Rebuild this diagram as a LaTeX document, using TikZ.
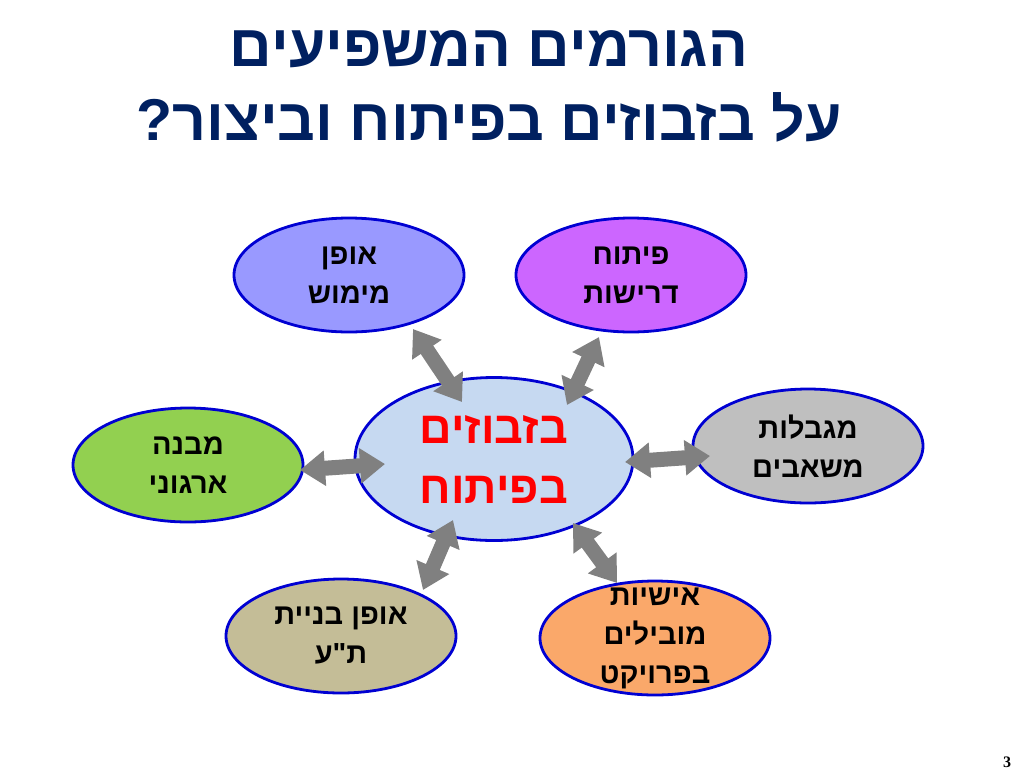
\documentclass[tikz,border=0pt]{standalone}
\usepackage{fontspec}
\setmainfont{Liberation Sans}[Script=Hebrew]
\newfontfamily\plainheb{Liberation Sans}[Script=Hebrew]
\newfontfamily\numfont{Liberation Serif}
\usetikzlibrary{arrows.meta,shapes.geometric}
\TeXXeTstate=1
\newcommand{\heb}[1]{\beginR#1\endR}
\definecolor{rim}{RGB}{0,0,210}
\definecolor{navy}{HTML}{002060}
\definecolor{arrowgray}{HTML}{808080}

\begin{document}
\begin{tikzpicture}[x=1pt,y=-1pt,
	factor/.style={ellipse,draw=rim,line width=2.8pt,minimum width=230pt,
		minimum height=114pt,inner sep=0pt,align=center,
		font=\bfseries\fontsize{29}{39}\selectfont},
	fat/.style={draw=arrowgray,line width=15pt,
		>={Triangle[width=34pt,length=25pt]},<->}]
	\useasboundingbox (0,0) rectangle (1023,780);
	\node[navy,align=center,font=\bfseries\fontsize{59}{74}\selectfont](title) at (489,86)
		{\heb{הגורמים המשפיעים}\\\heb{על בזבוזים בפיתוח וביצור?}};
	\node[factor,fill={rgb,255:red,153;green,153;blue,255}](A) at (349,275){\heb{אופן}\\\heb{מימוש}};
	\node[factor,fill={rgb,255:red,204;green,102;blue,255}](D) at (631,275){\heb{פיתוח}\\\heb{דרישות}};
	\node[factor,fill={rgb,255:red,146;green,208;blue,80}](R) at (188,465){\heb{מבנה}\\\heb{ארגוני}};
	\node[factor,fill={rgb,255:red,191;green,191;blue,191}](G) at (808,446){\heb{מגבלות}\\\heb{משאבים}};
	\node[factor,fill={rgb,255:red,196;green,189;blue,151}](T) at (341,636){\heb{אופן בניית}\\\heb{\plainheb ת"ע}};
	\node[factor,fill={rgb,255:red,250;green,168;blue,106},inner sep=-25pt](P) at (655,638)
		{\heb{אישיות}\\\heb{מובילים}\\\heb{בפרויקט}};
	\node[factor,fill={rgb,255:red,198;green,217;blue,241},minimum width=278pt,minimum height=163pt,
		text=red,font=\bfseries\fontsize{45}{60}\selectfont](Z) at (494,459){\heb{בזבוזים}\\\heb{בפיתוח}};
	\node[font=\numfont\bfseries\fontsize{16}{16}\selectfont](num) at (1007,762){3};
	
	\coordinate (a1) at (413,329); \coordinate (z1) at (462,402);
	\coordinate (d1) at (599,337); \coordinate (z2) at (567,405);
	\coordinate (r1) at (300,470); \coordinate (z3) at (385,464);
	\coordinate (g1) at (710,456); \coordinate (z4) at (625,462);
	\coordinate (t1) at (423,590); \coordinate (z5) at (453,520);
	\coordinate (p1) at (617,583); \coordinate (z6) at (573,523);
	
	\path (a1) edge[fat] (z1)
		  (d1) edge[fat] (z2)
		  (r1) edge[fat] (z3)
		  (g1) edge[fat] (z4)
		  (t1) edge[fat] (z5)
		  (p1) edge[fat] (z6);
\end{tikzpicture}
\end{document}
